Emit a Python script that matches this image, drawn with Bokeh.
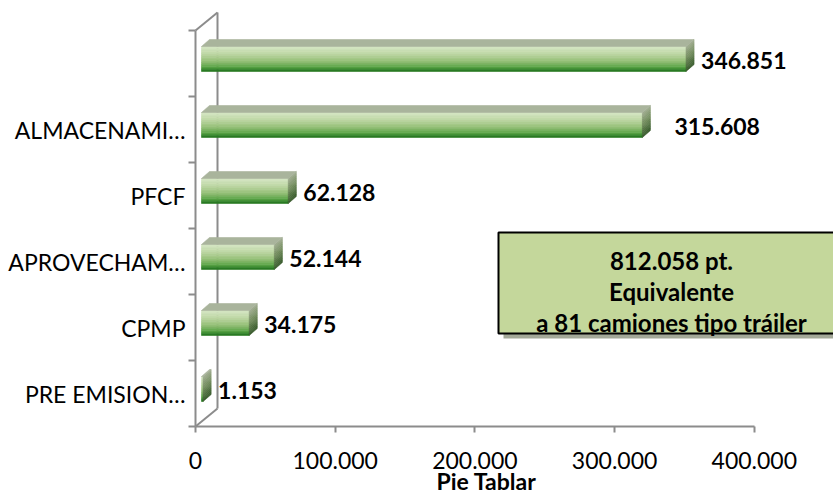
import numpy as np
from bokeh.plotting import figure
from bokeh.models import Range1d, FixedTicker, ColumnDataSource
from bokeh.embed import file_html
from bokeh.resources import INLINE
from bokeh.core.properties import value

# ---------------- data ----------------
categories = ["PRE EMISION…", "CPMP", "APROVECHAM…", "PFCF", "ALMACENAMI…", ""]
values = [1153, 34175, 52144, 62128, 315608, 346851]
value_labels = ["1.153", "34.175", "52.144", "62.128", "315.608", "346.851"]
x_ticks = [0, 100000, 200000, 300000, 400000]
x_tick_labels = ["0", "100.000", "200.000", "300.000", "400.000"]
note_lines = ["812.058 pt.", "Equivalente", "a 81 camiones tipo tráiler"]
x_title = "Pie Tablar"

# label nudges (pixels), style only
label_shift_px = [0, 0, 0, 0, 17, 0]

# ---------------- geometry ----------------
W, H = 833, 495
ORIGIN_X = 195        # pixel column of the value-axis zero (front plane)
FLOOR_Y = 426         # pixel row of the floor line
PX_X = 139.7 / 100000.0
PX_Y = 66.0


def hx(px):
    return px / PX_X


def hy(px):
    return px / PX_Y


n = len(categories)
floor = -0.5
x_start = -hx(ORIGIN_X)
x_end = hx(W - ORIGIN_X)
y_start = floor - hy(H - FLOOR_Y)
y_end = floor + hy(FLOOR_Y)

FONT = value("Lato")
GRAY = "#8c8c8c"

p = figure(width=W, height=H, output_backend="svg", toolbar_location=None,
           x_range=Range1d(x_start, x_end), y_range=Range1d(y_start, y_end),
           min_border=0)
p.outline_line_color = None
p.grid.visible = False
p.background_fill_color = "white"
p.border_fill_color = "white"

# ---------------- axes ----------------
xa = p.xaxis[0]
xa.fixed_location = floor
xa.ticker = FixedTicker(ticks=x_ticks, minor_ticks=[])
xa.major_label_overrides = {t: s for t, s in zip(x_ticks, x_tick_labels)}
xa.bounds = (x_ticks[0], x_ticks[-1])
xa.axis_line_color = GRAY
xa.axis_line_width = 2
xa.major_tick_line_color = GRAY
xa.major_tick_line_width = 2
xa.major_tick_out = 6
xa.major_tick_in = 0
xa.minor_tick_line_color = None
xa.major_label_standoff = 19
xa.major_label_text_font = "Lato"
xa.major_label_text_font_size = "23px"
xa.major_label_text_color = "black"

ya = p.yaxis[0]
ya.fixed_location = 0
centers = list(range(n))
bounds = [i - 0.5 for i in range(n + 1)]
ya.ticker = FixedTicker(ticks=centers, minor_ticks=bounds)
ya.major_label_overrides = {i: c for i, c in zip(centers, categories)}
ya.bounds = (bounds[0], bounds[-1])
ya.axis_line_color = GRAY
ya.axis_line_width = 2
ya.major_tick_line_color = None
ya.major_tick_out = 0
ya.major_tick_in = 0
ya.minor_tick_line_color = GRAY
ya.minor_tick_line_width = 2
ya.minor_tick_out = 7
ya.minor_tick_in = 0
ya.major_label_standoff = 3
ya.major_label_text_font = "Lato"
ya.major_label_text_font_size = "23px"
ya.major_label_text_color = "black"

# ---------------- 3D walls ----------------
wdx, wdy = hx(22), hy(18)
top = bounds[-1]
bot = bounds[0]
p.segment(x0=[0, wdx, 0], y0=[top, bot + wdy, bot],
          x1=[wdx, wdx, wdx], y1=[top + wdy, top + wdy, bot + wdy],
          line_color=GRAY, line_width=2)

# ---------------- bars ----------------
def hex2rgb(h):
    h = h.lstrip("#")
    return np.array([int(h[i:i + 2], 16) for i in (0, 2, 4)], dtype=float)


def grad(stops, t):
    for (t0, c0), (t1, c1) in zip(stops[:-1], stops[1:]):
        if t0 <= t <= t1:
            f = (t - t0) / (t1 - t0) if t1 > t0 else 0
            c = hex2rgb(c0) * (1 - f) + hex2rgb(c1) * f
            return "#%02x%02x%02x" % tuple(int(round(v)) for v in c)
    return stops[-1][1]


front_stops = [(0.0, "#d8e8c6"), (0.3, "#bdd7a4"), (0.6, "#94c076"),
               (0.85, "#56a042"), (1.0, "#1c6e1a")]
side_stops = [(0.0, "#a2ae92"), (0.5, "#6f8a5a"), (1.0, "#36592a")]
top_color = "#a9b49c"

bar_x0 = hx(6)
bar_shift = hy(4.5)
bar_h = hy(25)
ddx, ddy = hx(8), hy(7)
NS = 14

fl, fr, ft, fb, fc = [], [], [], [], []
sxs, sys_, sc = [], [], []
txs, tys = [], []
for i, v in enumerate(values):
    yc = i + bar_shift
    yt = yc + bar_h / 2
    x0 = bar_x0
    x1 = bar_x0 + v
    txs.append([x0, x1, x1 + ddx, x0 + ddx])
    tys.append([yt, yt, yt + ddy, yt + ddy])
    for k in range(NS):
        a = k / NS
        b = (k + 1) / NS
        ytk = yt - a * bar_h
        ybk = yt - b * bar_h
        fl.append(x0)
        fr.append(x1)
        ft.append(ytk)
        fb.append(ybk)
        fc.append(grad(front_stops, (a + b) / 2))
        sxs.append([x1, x1, x1 + ddx, x1 + ddx])
        sys_.append([ybk, ytk, ytk + ddy, ybk + ddy])
        sc.append(grad(side_stops, (a + b) / 2))

p.quad(left="l", right="r", top="t", bottom="b", fill_color="c", line_color="c",
       line_width=0.6, source=ColumnDataSource(dict(l=fl, r=fr, t=ft, b=fb, c=fc)))
p.patches(xs="xs", ys="ys", fill_color="c", line_color="c", line_width=0.6,
          source=ColumnDataSource(dict(xs=sxs, ys=sys_, c=sc)))
p.patches(xs=txs, ys=tys, fill_color=top_color, line_color=top_color, line_width=0.6)

# value labels
lx = [v + bar_x0 + ddx + hx(7) + hx(s) for v, s in zip(values, label_shift_px)]
ly = [i + bar_shift - hy(1.5) for i in range(n)]
p.text(x=lx, y=ly, text=value_labels, text_font=FONT, text_font_style="bold",
       text_font_size="23px", text_baseline="middle", text_align="left",
       text_color="black")

# ---------------- note box ----------------
def px_(page_x):
    return hx(page_x - ORIGIN_X)


def py_(page_y):
    return floor + hy(FLOOR_Y - page_y)


bx0, bx1 = px_(498), px_(850)
by_top, by_bot = py_(232), py_(333)
p.quad(left=[bx0 + hx(5)], right=[bx1 + hx(5)], top=[by_top - hy(5)],
       bottom=[by_bot - hy(5)], fill_color="#a3a898", line_color=None)
p.quad(left=[bx0], right=[bx1], top=[by_top], bottom=[by_bot],
       fill_color="#c4d79b", line_color="black", line_width=2)
nx = px_(671)
ny_mid = py_(291)
nys = [ny_mid + hy(31) * (1 - j) for j in range(len(note_lines))]
p.text(x=[nx] * len(note_lines), y=nys, text=note_lines, text_font=FONT,
       text_font_style="bold", text_font_size="24px", text_align="center",
       text_baseline="middle", text_color="black")

# ---------------- x title ----------------
p.text(x=[px_(486)], y=[py_(480)], text=[x_title], text_font=FONT,
       text_font_style="bold", text_font_size="23px", text_align="center",
       text_baseline="middle", text_color="black")

open("out.html", "w").write(file_html(p, INLINE))
